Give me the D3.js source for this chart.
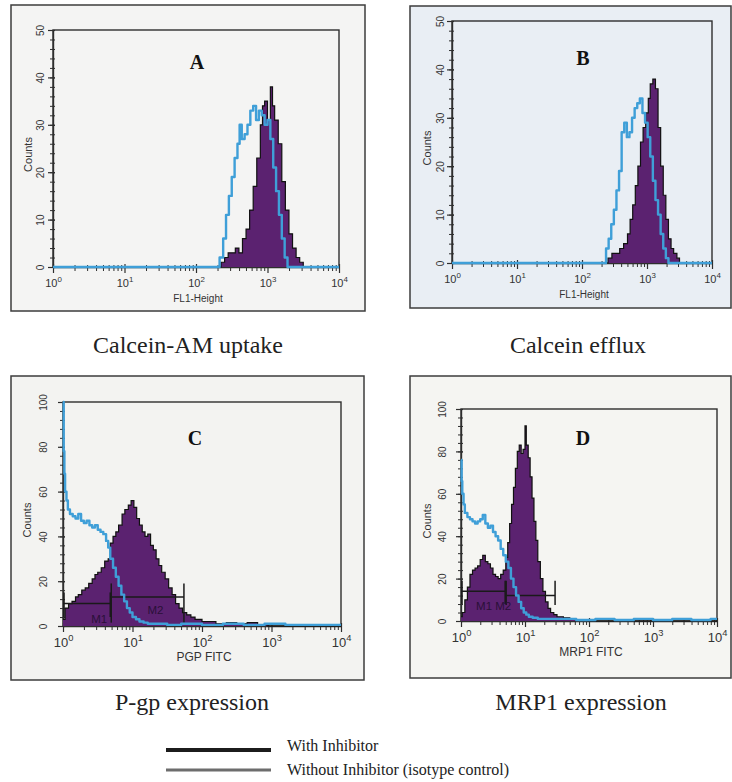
<!DOCTYPE html>
<html>
<head>
<meta charset="utf-8">
<script src="https://cdn.jsdelivr.net/npm/d3@7"></script>
<style>
  body { margin: 0; background: #fff; }
  svg { display: block; }
</style>
</head>
<body>
<div id="chart"></div>
<script>
// histogram data: channel position as log10 exponent, counts per step
const aWithExp = [0, 2.35, 2.40, 2.45, 2.50, 2.55, 2.60, 2.65, 2.70, 2.75, 2.80, 2.85, 2.90, 2.93, 2.96, 3.00, 3.04, 3.07, 3.10, 3.15, 3.20, 3.25, 3.30, 3.35, 3.40, 3.45, 3.50, 4];
const aWithCnt = [0, 1, 2, 3, 3, 4, 3, 6, 8, 12, 17, 23, 30, 34, 35, 31, 38, 34, 31, 26, 18, 12, 7, 4, 2, 1, 0, 0];
const aWithoutExp = [0, 2.33, 2.38, 2.42, 2.46, 2.50, 2.54, 2.58, 2.61, 2.64, 2.68, 2.72, 2.76, 2.80, 2.84, 2.88, 2.92, 2.96, 3.00, 3.04, 3.08, 3.12, 3.16, 3.20, 3.24, 3.28, 4];
const aWithoutCnt = [0, 2, 6, 11, 15, 19, 23, 26, 30, 27, 28, 30, 33, 34, 31, 33, 32, 30, 31, 27, 21, 16, 11, 6, 2, 0, 0];

const bWithExp = [0, 2.40, 2.46, 2.52, 2.58, 2.64, 2.70, 2.74, 2.78, 2.82, 2.86, 2.90, 2.94, 2.98, 3.02, 3.05, 3.09, 3.13, 3.17, 3.21, 3.25, 3.29, 3.33, 3.37, 3.41, 3.46, 3.50, 4];
const bWithCnt = [0, 1, 2, 2, 3, 4, 6, 9, 12, 16, 20, 25, 28, 31, 34, 37, 38, 36, 28, 20, 14, 9, 5, 3, 2, 1, 0, 0];
const bWithoutExp = [0, 2.37, 2.41, 2.45, 2.49, 2.53, 2.57, 2.61, 2.65, 2.69, 2.73, 2.77, 2.81, 2.85, 2.89, 2.93, 2.97, 3.01, 3.05, 3.09, 3.13, 3.17, 3.21, 3.25, 3.29, 3.33, 4];
const bWithoutCnt = [0, 3, 5, 8, 11, 15, 19, 27, 29, 26, 27, 30, 32, 33, 34, 31, 29, 26, 22, 17, 13, 10, 6, 3, 1, 0, 0];

const cWithExp = [0, 0.03, 0.08, 0.13, 0.18, 0.22, 0.27, 0.32, 0.37, 0.42, 0.46, 0.50, 0.55, 0.60, 0.65, 0.68, 0.72, 0.76, 0.80, 0.85, 0.89, 0.94, 0.98, 1.02, 1.06, 1.10, 1.14, 1.18, 1.22, 1.26, 1.30, 1.34, 1.38, 1.42, 1.47, 1.52, 1.57, 1.62, 1.67, 1.72, 1.78, 1.84, 1.90, 2.0, 2.1, 2.2, 2.35, 2.5, 2.65, 2.8, 2.95, 4];
const cWithCnt = [3, 8, 10, 11, 13, 14, 16, 17, 19, 21, 23, 24, 26, 29, 30, 37, 40, 42, 45, 50, 52, 54, 56, 53, 48, 45, 42, 40, 41, 36, 34, 30, 27, 24, 21, 17, 14, 10, 8, 6, 5, 4, 3, 2, 2, 1, 1.5, 1, 1.5, 0.5, 0, 0];
const cWithoutExp = [0, 0.01, 0.02, 0.03, 0.05, 0.07, 0.10, 0.14, 0.18, 0.22, 0.26, 0.30, 0.34, 0.38, 0.42, 0.46, 0.50, 0.54, 0.58, 0.62, 0.65, 0.68, 0.72, 0.76, 0.80, 0.84, 0.88, 0.92, 0.96, 1.00, 1.05, 1.10, 1.16, 1.22, 1.35, 1.5, 1.7, 2.0, 2.3, 2.6, 2.9, 3.2, 3.5, 3.8, 4];
const cWithoutCnt = [100, 78, 68, 60, 56, 52, 50, 49, 48, 50, 47, 46, 47, 45, 44, 45, 43, 42, 41, 38, 35, 30, 26, 22, 18, 14, 11, 8, 6, 4, 3, 2, 1.5, 1, 1, 0.5, 1, 0.5, 1, 0.5, 1, 0.5, 0.5, 0.5, 0.5];

const dWithExp = [0, 0.02, 0.06, 0.10, 0.14, 0.18, 0.22, 0.26, 0.30, 0.34, 0.38, 0.42, 0.46, 0.50, 0.54, 0.58, 0.62, 0.66, 0.70, 0.73, 0.76, 0.79, 0.82, 0.85, 0.88, 0.91, 0.94, 0.97, 1.00, 1.02, 1.05, 1.08, 1.11, 1.14, 1.17, 1.20, 1.24, 1.28, 1.32, 1.36, 1.40, 1.45, 1.5, 1.6, 1.7, 1.8, 2.0, 4];
const dWithCnt = [2, 4, 10, 16, 22, 24, 25, 26, 29, 31, 28, 27, 25, 22, 21, 20, 22, 24, 30, 37, 46, 55, 63, 72, 80, 83, 79, 81, 92, 83, 77, 68, 58, 47, 38, 28, 20, 14, 9, 6, 4, 3, 2, 1.5, 1, 0.5, 0, 0];
const dWithoutExp = [0, 0.01, 0.02, 0.04, 0.06, 0.10, 0.14, 0.18, 0.22, 0.26, 0.30, 0.34, 0.38, 0.42, 0.46, 0.50, 0.54, 0.58, 0.62, 0.66, 0.70, 0.74, 0.78, 0.82, 0.86, 0.90, 0.94, 0.98, 1.02, 1.06, 1.12, 1.2, 1.3, 1.5, 1.8, 2.1, 2.4, 2.7, 3.0, 3.3, 3.6, 3.9, 4];
const dWithoutCnt = [76, 66, 60, 55, 51, 49, 48, 47, 46, 47, 48, 50, 46, 44, 45, 42, 40, 38, 34, 31, 28, 25, 20, 16, 12, 9, 6, 4, 3, 2, 1.5, 1, 1, 1, 0.5, 1, 0.5, 1, 0.5, 1, 0.5, 1, 1];

// marker gates (M1 / M2) in panels C and D
const cGates = [
  {name: 'M1', from: 0, to: 0.68, level: 10, lo: 4, hi: 15, labelAt: 0.52, labelY: 1.2},
  {name: 'M2', from: 0.68, to: 1.74, level: 13, lo: 1.5, hi: 19, labelAt: 1.33, labelY: 5.5}
];
const dGates = [
  {name: 'M1', from: 0, to: 0.69, level: 14, lo: 8, hi: 19, labelAt: 0.36, labelY: 5},
  {name: 'M2', from: 0.69, to: 1.47, level: 12, lo: 7.5, hi: 19, labelAt: 0.66, labelY: 5}
];

const panelLetters = ['A', 'B', 'C', 'D'];
const captions = ['Calcein-AM uptake', 'Calcein efflux', 'P-gp expression', 'MRP1 expression'];
const xTitles = ['FL1-Height', 'FL1-Height', 'PGP FITC', 'MRP1 FITC'];
const yMaxes = [50, 50, 100, 100];
const decades = [0, 1, 2, 3, 4];
const legendLabels = ['With Inhibitor', 'Without Inhibitor (isotype control)'];

const PURPLE = '#5b2270', BLUE = '#3f9fd8', INK = '#2e2e2e';
const SANS = 'Liberation Sans, Arial, sans-serif';
const SERIF = 'Liberation Serif, Times New Roman, serif';

const layout = [
  {frame: [11, 5, 354, 306], plot: [53, 339, 267, 30], bg: '#f4f4f3', fs: 11, xfs: 10, yoff: -9.5, countsX: 28, letter: [197, 62], cap: [188, 353], minor: 2,
   withS: [aWithExp, aWithCnt], withoutS: [aWithoutExp, aWithoutCnt], gates: null},
  {frame: [410, 6, 321, 302], plot: [452, 712, 263, 21], bg: '#e9eef4', fs: 11, xfs: 10, yoff: -8.5, countsX: 427, letter: [583, 58], cap: [578, 353], minor: 2,
   withS: [bWithExp, bWithCnt], withoutS: [bWithoutExp, bWithoutCnt], gates: null},
  {frame: [11, 376, 353, 304], plot: [63, 341, 626, 402], bg: '#f3f3f1', fs: 13, xfs: 12, yoff: -16.5, countsX: 27, letter: [195, 438], cap: [192, 710], minor: 4,
   withS: [cWithExp, cWithCnt], withoutS: [cWithoutExp, cWithoutCnt], gates: cGates},
  {frame: [410, 376, 321, 302], plot: [461, 717, 621, 409], bg: '#f5f5f2', fs: 13, xfs: 12, yoff: -15.5, countsX: 427, letter: [583, 438], cap: [581, 710], minor: 4,
   withS: [dWithExp, dWithCnt], withoutS: [dWithoutExp, dWithoutCnt], gates: dGates}
];

const svg = d3.select('#chart').append('svg').attr('width', 732).attr('height', 782);

layout.forEach((p, i) => {
  const g = svg.append('g');
  const [fx, fy, fw, fh] = p.frame;
  const [x0, x1, y0, y1] = p.plot;
  g.append('rect').attr('x', fx).attr('y', fy).attr('width', fw).attr('height', fh)
    .attr('fill', p.bg).attr('stroke', '#3c3c3c').attr('stroke-width', 1.5);

  const x = d3.scaleLog().domain([1, 1e4]).range([x0, x1]);
  const y = d3.scaleLinear().domain([0, yMaxes[i]]).range([y0, y1]);

  g.append('rect').attr('x', x0).attr('y', y1).attr('width', x1 - x0).attr('height', y0 - y1)
    .attr('fill', 'none').attr('stroke', INK).attr('stroke-width', 1.4);

  // x axis: decades + minor log ticks
  const minorVals = [];
  decades.slice(0, 4).forEach(d => { for (let m = 2; m <= 9; m++) minorVals.push(m * Math.pow(10, d)); });
  const gxm = g.append('g').attr('transform', `translate(0,${y0})`)
    .call(d3.axisBottom(x).tickValues(minorVals).tickSize(4).tickSizeOuter(0).tickFormat(() => ''));
  gxm.select('.domain').remove();
  gxm.selectAll('.tick line').attr('y1', -2).attr('stroke', INK);

  const gx = g.append('g').attr('transform', `translate(0,${y0})`)
    .call(d3.axisBottom(x).tickValues(decades.map(d => Math.pow(10, d))).tickSize(6).tickSizeOuter(0).tickFormat(() => ''));
  gx.select('.domain').attr('stroke', INK).attr('stroke-width', 1.4);
  gx.selectAll('.tick line').attr('y1', -3).attr('stroke', INK).attr('stroke-width', 1.2);
  gx.selectAll('.tick text')
    .attr('y', 16).attr('dy', '0.35em')
    .attr('font-family', SANS).attr('font-size', p.fs).attr('fill', '#333')
    .each(function (d) {
      const t = d3.select(this);
      t.append('tspan').text('10');
      t.append('tspan').attr('dy', '-0.55em').attr('font-size', p.fs * 0.72).text(Math.round(Math.log10(d)));
    });

  g.append('text').attr('x', (x0 + x1) / 2 + 2).attr('y', y0 + 31).attr('dy', '0.35em')
    .attr('text-anchor', 'middle').attr('font-family', SANS)
    .attr('font-size', p.xfs).attr('fill', '#333').text(xTitles[i]);

  // y axis: majors with rotated labels + minors
  const gym = g.append('g').attr('transform', `translate(${x0},0)`)
    .call(d3.axisLeft(y).tickValues(d3.range(0, yMaxes[i] + 0.1, p.minor)).tickSize(3).tickSizeOuter(0).tickFormat(() => ''));
  gym.select('.domain').remove();
  gym.selectAll('.tick line').attr('x1', 2).attr('stroke', INK);

  const gy = g.append('g').attr('transform', `translate(${x0},0)`)
    .call(d3.axisLeft(y).tickValues(d3.range(0, yMaxes[i] + 0.1, yMaxes[i] / 5)).tickSize(5).tickSizeOuter(0));
  gy.select('.domain').attr('stroke', INK).attr('stroke-width', 1.4);
  gy.selectAll('.tick line').attr('x1', 2).attr('stroke', INK).attr('stroke-width', 1.2);
  gy.selectAll('.tick text')
    .attr('transform', 'rotate(-90)').attr('x', 0).attr('y', p.yoff).attr('dy', 0)
    .attr('text-anchor', 'middle').attr('font-family', SANS)
    .attr('font-size', 10).attr('fill', '#333');

  g.append('text').attr('transform', `translate(${p.countsX},${(y0 + y1) / 2 + 6}) rotate(-90)`)
    .attr('text-anchor', 'middle').attr('dy', '0.35em')
    .attr('font-family', SANS).attr('font-size', 11).attr('fill', '#333')
    .text('Counts');

  // histograms
  const withPts = p.withS[0].map((e, k) => [e, p.withS[1][k]]);
  const withoutPts = p.withoutS[0].map((e, k) => [e, p.withoutS[1][k]]);
  const area = d3.area().x(d => x(Math.pow(10, d[0]))).y0(y0).y1(d => y(d[1])).curve(d3.curveStepAfter);
  const line = d3.line().x(d => x(Math.pow(10, d[0]))).y(d => y(d[1])).curve(d3.curveStepAfter);

  g.append('path').datum(withPts).attr('d', area).attr('fill', PURPLE);
  g.append('path').datum(withPts).attr('d', line).attr('fill', 'none').attr('stroke', '#111').attr('stroke-width', 1.2);

  if (p.gates) {
    p.gates.forEach(gt => {
      const gg = g.append('g').attr('stroke', '#1a1a1a').attr('stroke-width', 1.5);
      gg.append('line').attr('x1', x(Math.pow(10, gt.from))).attr('x2', x(Math.pow(10, gt.to)))
        .attr('y1', y(gt.level)).attr('y2', y(gt.level));
      gg.append('line').attr('x1', x(Math.pow(10, gt.to))).attr('x2', x(Math.pow(10, gt.to)))
        .attr('y1', y(gt.lo)).attr('y2', y(gt.hi));
      gg.append('line').attr('x1', x(Math.pow(10, gt.from)) + 1).attr('x2', x(Math.pow(10, gt.from)) + 1)
        .attr('y1', y(gt.lo)).attr('y2', y(gt.hi));
      g.append('text').attr('x', x(Math.pow(10, gt.labelAt))).attr('y', y(gt.labelY))
        .attr('text-anchor', 'middle').attr('font-family', SANS)
        .attr('font-size', 11.5).attr('fill', '#2a1038').text(gt.name);
    });
  }

  g.append('path').datum(withoutPts).attr('d', line).attr('fill', 'none')
    .attr('stroke', BLUE).attr('stroke-width', 2.4).attr('stroke-linejoin', 'round');

  g.append('text').attr('x', p.letter[0]).attr('y', p.letter[1]).attr('dy', '0.35em')
    .attr('text-anchor', 'middle').attr('font-family', SERIF)
    .attr('font-weight', 'bold').attr('font-size', 20).attr('fill', '#111').text(panelLetters[i]);

  svg.append('text').attr('x', p.cap[0]).attr('y', p.cap[1])
    .attr('text-anchor', 'middle').attr('font-family', SERIF)
    .attr('font-size', 24).attr('fill', '#222').text(captions[i]);
});

// legend
const legendColors = ['#1c1c1c', '#6d6d6d'];
const legendWidths = [4, 3];
const lg = svg.append('g');
legendLabels.forEach((lab, k) => {
  const ly = 750 + k * 20;
  lg.append('line').attr('x1', 166).attr('x2', 271).attr('y1', ly).attr('y2', ly)
    .attr('stroke', legendColors[k]).attr('stroke-width', legendWidths[k]);
  lg.append('text').attr('x', 287).attr('y', ly - 5 + k * 4).attr('dy', '0.35em')
    .attr('font-family', SERIF).attr('font-size', 16)
    .attr('fill', '#222').text(lab);
});
</script>
</body>
</html>
